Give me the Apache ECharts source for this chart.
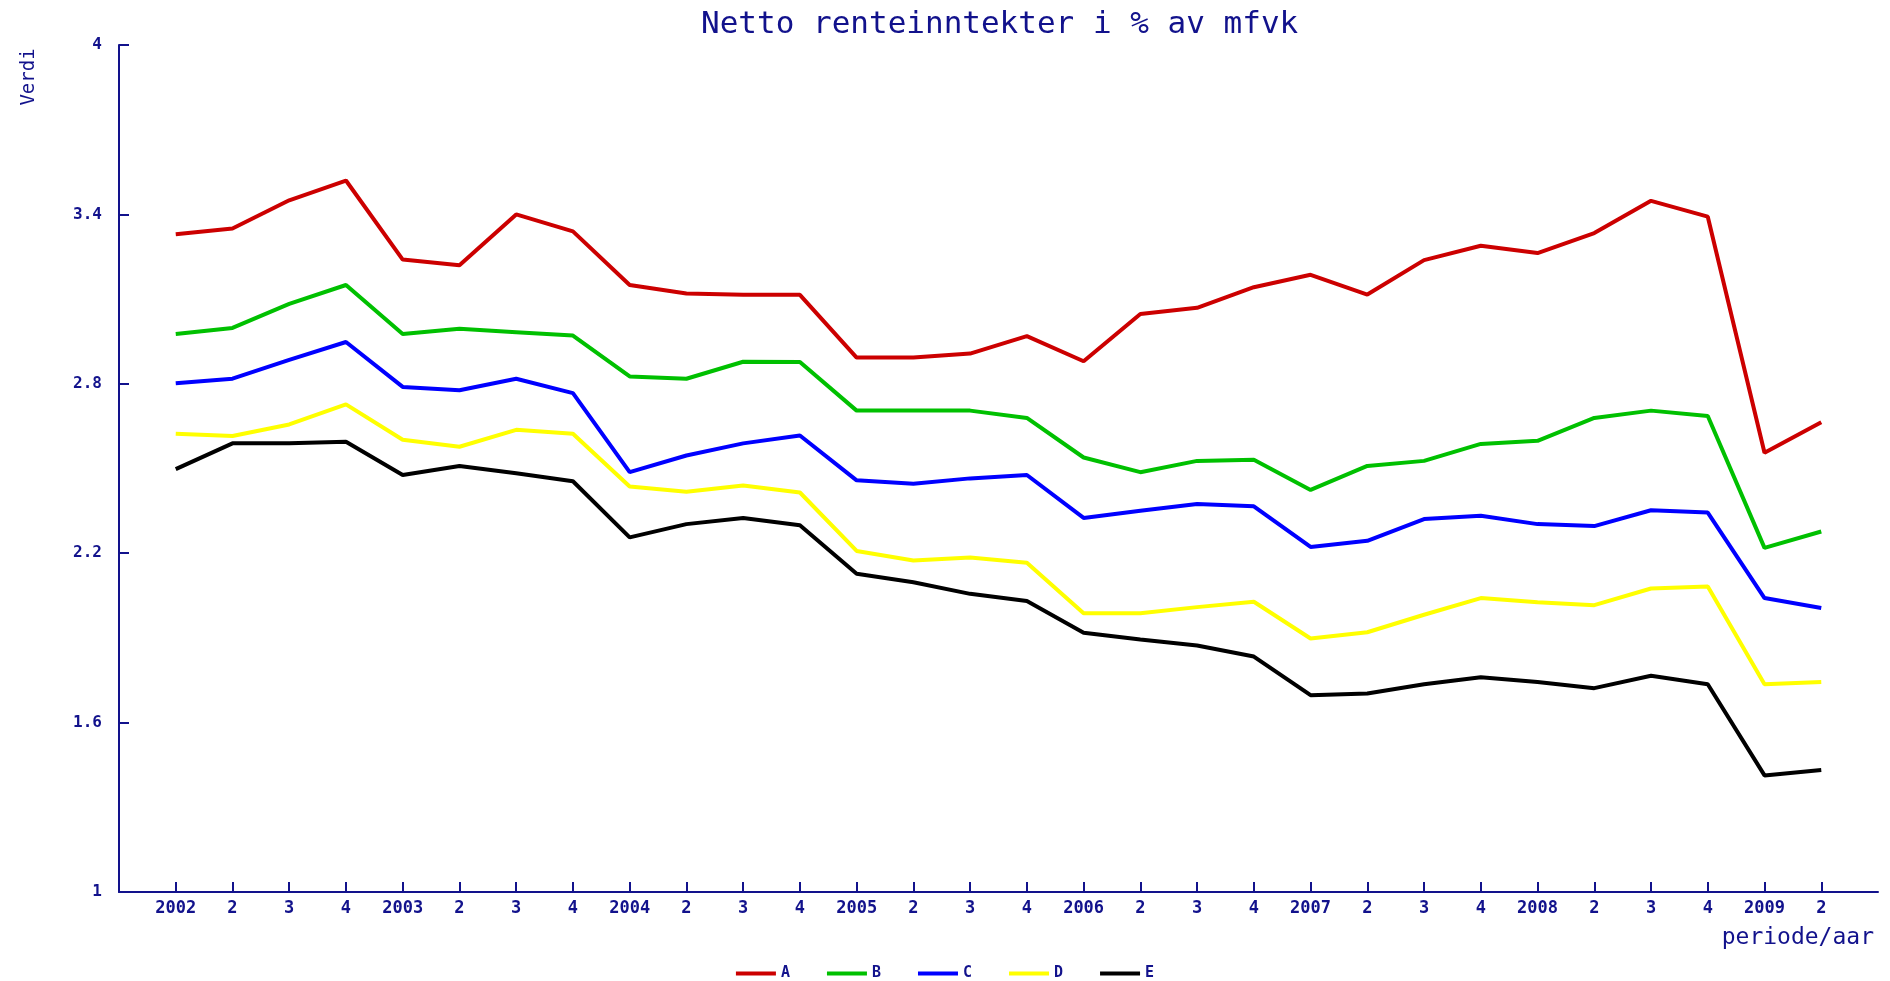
<!DOCTYPE html>
<html>
<head>
<meta charset="utf-8">
<title>Netto renteinntekter</title>
<script src="https://cdn.jsdelivr.net/npm/echarts@6/dist/echarts.min.js"></script>
<style>
  html, body { margin: 0; padding: 0; background: #fff; }
  #chart { width: 1890px; height: 981px; }
</style>
</head>
<body>
<div id="chart"></div>
<script>
// periode/aar tick labels
const periods = ['2002', '2', '3', '4', '2003', '2', '3', '4', '2004', '2', '3', '4',
  '2005', '2', '3', '4', '2006', '2', '3', '4', '2007', '2', '3', '4',
  '2008', '2', '3', '4', '2009', '2'];

const seriesNames = ['A', 'B', 'C', 'D', 'E'];

const valA = [3.33, 3.35, 3.45, 3.52, 3.24, 3.22, 3.40, 3.34, 3.15, 3.12, 3.115, 3.115,
  2.893, 2.893, 2.907, 2.969, 2.88, 3.047, 3.069, 3.142, 3.186, 3.116, 3.238, 3.289,
  3.263, 3.334, 3.448, 3.392, 2.556, 2.664];
const valB = [2.976, 2.998, 3.083, 3.15, 2.976, 2.995, 2.983, 2.971, 2.826, 2.818, 2.878, 2.877,
  2.705, 2.705, 2.705, 2.679, 2.539, 2.487, 2.527, 2.531, 2.424, 2.509, 2.527, 2.587,
  2.598, 2.679, 2.705, 2.686, 2.219, 2.277];
const valC = [2.802, 2.818, 2.885, 2.948, 2.789, 2.777, 2.818, 2.767, 2.487, 2.546, 2.589, 2.617,
  2.458, 2.446, 2.465, 2.477, 2.325, 2.35, 2.374, 2.366, 2.222, 2.244, 2.321, 2.333,
  2.303, 2.296, 2.352, 2.344, 2.041, 2.006];
const valD = [2.623, 2.615, 2.656, 2.727, 2.602, 2.577, 2.637, 2.623, 2.436, 2.418, 2.44, 2.415,
  2.208, 2.174, 2.185, 2.166, 1.987, 1.987, 2.009, 2.028, 1.898, 1.92, 1.982, 2.041,
  2.026, 2.016, 2.075, 2.082, 1.736, 1.744];
const valE = [2.498, 2.589, 2.589, 2.595, 2.477, 2.509, 2.483, 2.455, 2.256, 2.303, 2.325, 2.299,
  2.127, 2.097, 2.056, 2.031, 1.918, 1.894, 1.873, 1.834, 1.697, 1.703, 1.736, 1.761,
  1.744, 1.722, 1.766, 1.736, 1.413, 1.432];

const colorList = ['#cc0000', '#00c000', '#0000ff', '#ffff00', '#000000'];
const navy = '#12128c';
const mono = 'DejaVu Sans Mono';

// axis runs one step past the first and last period
const xCats = [''].concat(periods, ['']);

let chart = echarts.init(document.getElementById('chart'));

let series = [valA, valB, valC, valD, valE].map((vals, k) => {
  return {
    name: seriesNames[k],
    type: 'line',
    symbol: 'none',
    lineStyle: { width: 4, color: colorList[k] },
    itemStyle: { color: colorList[k] },
    data: vals.map((v, i) => [i + 1, v]),
  };
});

let option = {
  animation: false,
  backgroundColor: '#fff',
  color: colorList,
  title: {
    text: 'Netto renteinntekter i % av mfvk',
    left: 696,
    top: 4,
    textStyle: { fontFamily: mono, fontSize: 31, fontWeight: 'normal', color: navy },
  },
  legend: {
    data: seriesNames,
    left: 'center',
    top: 961,
    icon: 'rect',
    itemWidth: 40,
    itemHeight: 4,
    itemGap: 37,
    textStyle: { fontFamily: mono, fontSize: 15, fontWeight: 'bold', color: navy },
  },
  grid: { left: 119, right: 12, top: 45, bottom: 89 },
  xAxis: {
    type: 'category',
    data: xCats,
    boundaryGap: false,
    axisLine: { lineStyle: { color: navy, width: 2 } },
    axisTick: {
      inside: true,
      length: 10,
      lineStyle: { color: navy, width: 2 },
      interval: (idx) => idx > 0 && idx < xCats.length - 1,
    },
    axisLabel: {
      interval: 0,
      margin: 8,
      fontFamily: mono,
      fontSize: 17,
      fontWeight: 'bold',
      color: navy,
    },
    splitLine: { show: false },
  },
  yAxis: {
    type: 'value',
    min: 1,
    max: 4,
    interval: 0.6,
    axisLine: { show: true, lineStyle: { color: navy, width: 2 } },
    axisTick: { show: true, inside: true, length: 10, lineStyle: { color: navy, width: 2 } },
    axisLabel: {
      margin: 17,
      fontFamily: mono,
      fontSize: 16,
      fontWeight: 'bold',
      color: navy,
      formatter: (v) => String(+v.toFixed(1)),
    },
    splitLine: { show: false },
  },
  graphic: [
    {
      type: 'text',
      x: 29,
      y: 77,
      rotation: Math.PI / 2,
      style: {
        text: 'Verdi',
        font: '19px ' + mono,
        fill: navy,
        align: 'center',
        verticalAlign: 'middle',
      },
    },
    {
      type: 'text',
      x: 1874,
      y: 938,
      style: {
        text: 'periode/aar',
        font: '23px ' + mono,
        fill: navy,
        align: 'right',
        verticalAlign: 'middle',
      },
    },
  ],
  series: series,
};

chart.setOption(option);
</script>
</body>
</html>
